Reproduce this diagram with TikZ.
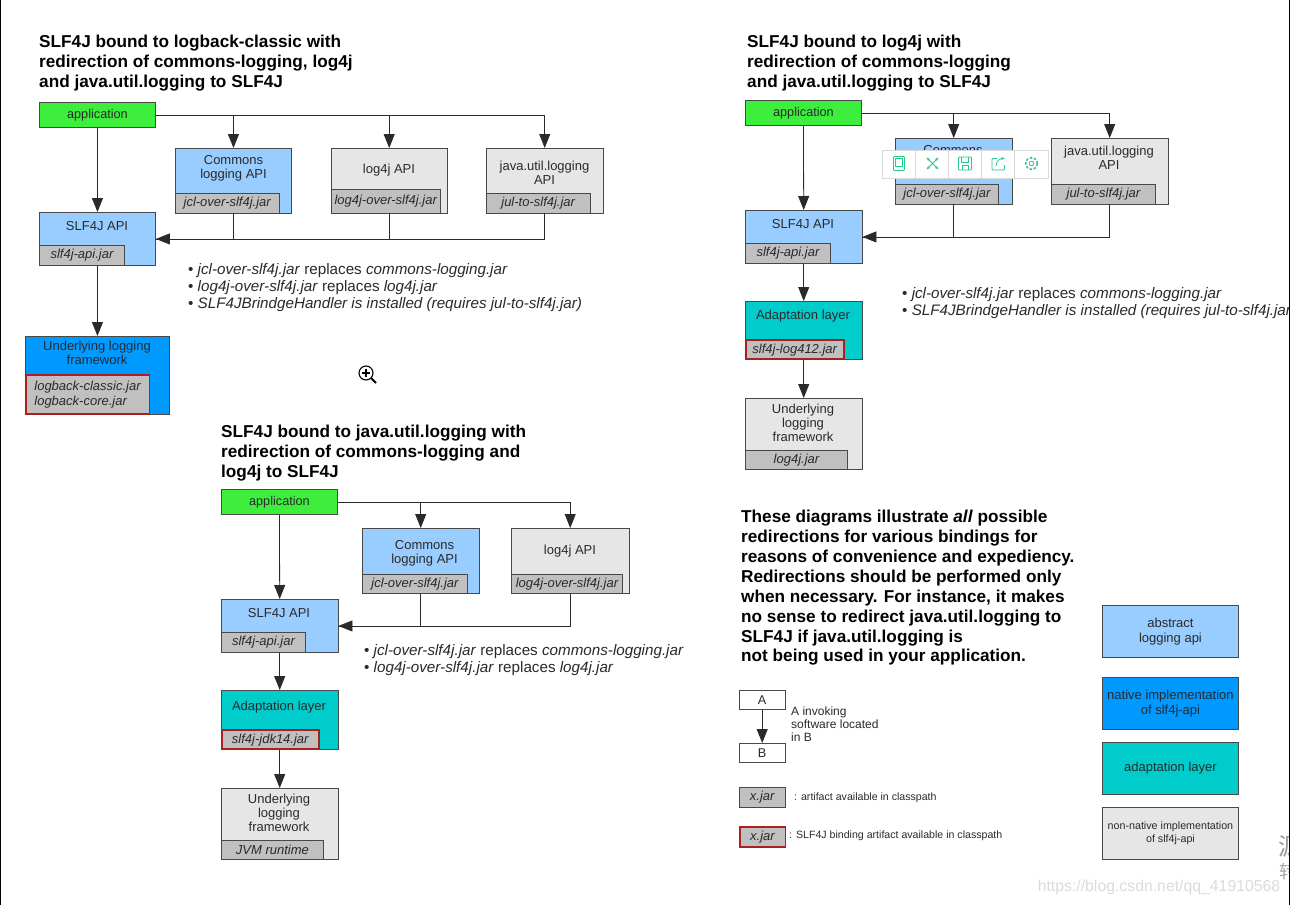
\documentclass[tikz,border=0pt]{standalone}
\usepackage{fontspec}
\setmainfont{Liberation Sans}
\newfontfamily\cjk{Noto Sans CJK SC}
\usetikzlibrary{arrows.meta, positioning, calc}
\definecolor{AppGreen}{HTML}{3DEE3D}
\definecolor{ApiBlue}{HTML}{99CCFF}
\definecolor{NativeBlue}{HTML}{0099FF}
\definecolor{AdaptTeal}{HTML}{00CCCC}
\definecolor{PlainGray}{HTML}{E6E6E6}
\definecolor{JarGray}{HTML}{C0C0C0}
\definecolor{BindRed}{HTML}{A82020}
\definecolor{EdgeGray}{HTML}{484848}
\definecolor{ToolGreen}{HTML}{22CC88}
\definecolor{InkGray}{HTML}{2A2A2A}
\tikzset{
  boxbase/.style={draw=EdgeGray, line width=0.9pt, inner sep=0pt, anchor=north west},
  appbox/.style={boxbase, fill=AppGreen, text=InkGray, minimum width=116pt, minimum height=25pt, font=\fontsize{12.7}{14.5}\selectfont},
  legendbox/.style={boxbase, minimum width=136pt, minimum height=52pt, align=center, text=InkGray, font=\fontsize{13}{15}\selectfont},
  plainbox/.style={boxbase, text=InkGray, fill=white, minimum width=45.5pt, minimum height=19pt, font=\fontsize{12.7}{14.5}\selectfont},
  boxtext/.style={inner sep=0pt, align=center, text=InkGray, font=\fontsize{13}{14.3}\selectfont},
  jarbox/.style={draw=EdgeGray, line width=0.9pt, fill=JarGray, inner sep=0pt, anchor=south west, minimum height=20pt, align=left, text=InkGray, font=\fontsize{13}{14.7}\selectfont\itshape},
  bindjar/.style={jarbox, draw=BindRed, line width=1.5pt},
  title/.style={inner sep=0pt, anchor=north west, align=left, text=black, font=\fontsize{17.2}{19.9}\selectfont\bfseries},
  note/.style={inner sep=0pt, anchor=north west, align=left, text=InkGray, font=\fontsize{15.2}{17}\selectfont},
  small/.style={inner sep=0pt, anchor=west, align=left, text=InkGray, font=\fontsize{12}{13}\selectfont},
  tiny/.style={inner sep=0pt, anchor=west, text=InkGray, font=\fontsize{10.6}{11}\selectfont},
  conn/.style={draw=InkGray, line width=0.8pt},
  call/.style={conn, -{Triangle[length=14pt,width=11pt]}},
  icon/.style={draw=ToolGreen, line width=0.8pt},
  mark text/.style={inner sep=0pt, text=black!14, font=\fontsize{15.8}{18}\selectfont},
}
\begin{document}
\begin{tikzpicture}[x=1pt,y=-1pt]
    \useasboundingbox (0,0) rectangle (1290,905);
    \fill[white] (0,0) rectangle (1290,905);

    % logback-classic
    \node[title] (titleA) at (39,35) {SLF4J bound to logback-classic with\\redirection of commons-logging, log4j\\and java.util.logging to SLF4J};
    \node[appbox] (appA) at (39,102) {application};
    \node[boxbase, fill=ApiBlue, minimum width=116pt, minimum height=64.5pt] (commonsA) at (175,148) {};
    \node[boxtext] (commonsAtext) at (233.5,168) {Commons\\logging API};
    \node[jarbox, minimum width=103.5pt] (commonsAjar) at (commonsA.south west) {jcl-over-slf4j.jar};
    \node[boxbase, fill=PlainGray, minimum width=115.5pt, minimum height=64.5pt] (logA) at (331,148) {};
    \node[boxtext] (logAtext) at (389,170) {log4j API};
    \node[jarbox, minimum width=108.5pt, minimum height=24pt] (logAjar) at (logA.south west) {log4j-over-slf4j.jar};
    \node[boxbase, fill=PlainGray, minimum width=116.5pt, minimum height=64.5pt] (julA) at (486,148) {};
    \node[boxtext] (julAtext) at (544.5,173) {java.util.logging\\API};
    \node[jarbox, minimum width=103.5pt] (julAjar) at (julA.south west) {jul-to-slf4j.jar};
    \node[boxbase, fill=ApiBlue, minimum width=116pt, minimum height=53pt] (apiA) at (39,212) {};
    \node[boxtext] (apiAtext) at (97,226) {SLF4J API};
    \node[jarbox, minimum width=85pt] (apiAjar) at (apiA.south west) {slf4j-api.jar};
    \node[note] (noteA) at (188,263.5) {• \textit{jcl-over-slf4j.jar} replaces \textit{commons-logging.jar}\\• \textit{log4j-over-slf4j.jar} replaces \textit{log4j.jar}\\• \textit{SLF4JBrindgeHandler is installed (requires jul-to-slf4j.jar)}};
    \node[boxbase, fill=NativeBlue, minimum width=143.5pt, minimum height=78pt] (fwA) at (25,336) {};
    \node[boxtext] (fwAtext) at (97,353) {Underlying logging\\framework};
    \node[bindjar, minimum width=123.5pt, minimum height=39pt] (fwAjar) at (fwA.south west) {logback-classic.jar\\logback-core.jar};
    \draw[call] (appA.east) -| (commonsA.north);
    \draw[call] (appA.east) -| (logA.north);
    \draw[call] (appA.east) -| (julA.north);
    \draw[call] (appA.south) -- (apiA.north);
    \draw[conn] (commonsA.south) |- (apiA.east);
    \draw[conn] (logA.south) |- (apiA.east);
    \draw[call] (julA.south) |- (apiA.east);
    \draw[call] (apiA.south) -- (apiA.south |- fwA.north);

    % log4j
    \node[title] (titleB) at (747,35) {SLF4J bound to log4j with\\redirection of commons-logging\\and java.util.logging to SLF4J};
    \node[appbox] (appB) at (745,100) {application};
    \node[boxbase, fill=ApiBlue, minimum width=116.5pt, minimum height=65.5pt] (commonsB) at (895,138) {};
    \node[boxtext] (commonsBtext) at (953,158) {Commons\\logging API};
    \node[jarbox, minimum width=103pt] (commonsBjar) at (commonsB.south west) {jcl-over-slf4j.jar};
    \node[boxbase, fill=PlainGray, minimum width=116.5pt, minimum height=65.5pt] (julB) at (1051,138) {};
    \node[boxtext] (julBtext) at (1109,158) {java.util.logging\\API};
    \node[jarbox, minimum width=104pt] (julBjar) at (julB.south west) {jul-to-slf4j.jar};
    \node[boxbase, fill=ApiBlue, minimum width=116.5pt, minimum height=53pt] (apiB) at (745,210) {};
    \node[boxtext] (apiBtext) at (803,224) {SLF4J API};
    \node[jarbox, minimum width=85pt] (apiBjar) at (apiB.south west) {slf4j-api.jar};
    \node[note] (noteB) at (902,287.5) {• \textit{jcl-over-slf4j.jar} replaces \textit{commons-logging.jar}\\• \textit{SLF4JBrindgeHandler is installed (requires jul-to-slf4j.jar)}};
    \node[boxbase, fill=AdaptTeal, minimum width=116.5pt, minimum height=58pt] (adaptB) at (745,301) {};
    \node[boxtext] (adaptBtext) at (803,316) {Adaptation layer};
    \node[bindjar, minimum width=98pt, minimum height=19pt] (adaptBjar) at (adaptB.south west) {slf4j-log412.jar};
    \node[boxbase, fill=PlainGray, minimum width=116.5pt, minimum height=71pt] (fwB) at (745,398) {};
    \node[boxtext] (fwBtext) at (803,423) {Underlying\\logging\\framework};
    \node[jarbox, minimum width=102pt, minimum height=19pt] (fwBjar) at (fwB.south west) {log4j.jar};
    \draw[call] (appB.east) -| (commonsB.north);
    \draw[call] (appB.east) -| (julB.north);
    \draw[call] (appB.south) -- (apiB.north);
    \draw[conn] (commonsB.south) |- (apiB.east);
    \draw[call] (julB.south) |- (apiB.east);
    \draw[call] (apiB.south) -- (adaptB.north);
    \draw[call] (adaptB.south) -- (fwB.north);

    % java.util.logging
    \node[title] (titleC) at (221,425) {SLF4J bound to java.util.logging with\\redirection of commons-logging and\\log4j to SLF4J};
    \node[appbox] (appC) at (221,489) {application};
    \node[boxbase, fill=ApiBlue, minimum width=116.5pt, minimum height=65pt] (commonsC) at (362,528) {};
    \node[boxtext] (commonsCtext) at (424.5,553) {Commons\\logging API};
    \node[jarbox, minimum width=105pt, minimum height=19pt] (commonsCjar) at (commonsC.south west) {jcl-over-slf4j.jar};
    \node[boxbase, fill=PlainGray, minimum width=117.5pt, minimum height=65pt] (logC) at (511,528) {};
    \node[boxtext] (logCtext) at (570,551) {log4j API};
    \node[jarbox, minimum width=111pt, minimum height=19pt] (logCjar) at (logC.south west) {log4j-over-slf4j.jar};
    \node[boxbase, fill=ApiBlue, minimum width=116.5pt, minimum height=53pt] (apiC) at (221,599) {};
    \node[boxtext] (apiCtext) at (279,613) {SLF4J API};
    \node[jarbox, minimum width=84pt] (apiCjar) at (apiC.south west) {slf4j-api.jar};
    \node[note] (noteC) at (364,644.5) {• \textit{jcl-over-slf4j.jar} replaces \textit{commons-logging.jar}\\• \textit{log4j-over-slf4j.jar} replaces \textit{log4j.jar}};
    \node[boxbase, fill=AdaptTeal, minimum width=116.5pt, minimum height=59pt] (adaptC) at (221,690) {};
    \node[boxtext] (adaptCtext) at (279,707) {Adaptation layer};
    \node[bindjar, minimum width=97pt, minimum height=19pt] (adaptCjar) at (adaptC.south west) {slf4j-jdk14.jar};
    \node[boxbase, fill=PlainGray, minimum width=116.5pt, minimum height=71pt] (fwC) at (221,788) {};
    \node[boxtext] (fwCtext) at (279,813) {Underlying\\logging\\framework};
    \node[jarbox, minimum width=102pt, minimum height=19pt] (fwCjar) at (fwC.south west) {JVM runtime};
    \draw[call] (appC.east) -| (commonsC.north);
    \draw[call] (appC.east) -| (logC.north);
    \draw[call] (appC.south) -- (apiC.north);
    \draw[conn] (commonsC.south) |- (apiC.east);
    \draw[call] (logC.south) |- (apiC.east);
    \draw[call] (apiC.south) -- (adaptC.north);
    \draw[call] (adaptC.south) -- (fwC.north);

    % closing remark and legend
    \node[title] (remark) at (741,510) {These diagrams illustrate \textit{all} possible\\redirections for various bindings for\\reasons of convenience and expediency.\\Redirections should be performed only\\when necessary. For instance, it makes\\no sense to redirect java.util.logging to\\SLF4J if java.util.logging is\\not being used in your application.};
    \node[legendbox, fill=ApiBlue] (lgAbstract) at (1102,605) {abstract\\logging api};
    \node[legendbox, fill=NativeBlue] (lgNative) at (1102,677) {native implementation\\of slf4j-api};
    \node[legendbox, fill=AdaptTeal] (lgAdapt) at (1102,742) {adaptation layer};
    \node[legendbox, fill=PlainGray, font=\fontsize{10.7}{13}\selectfont] (lgPlain) at (1102,807) {non-native implementation\\of slf4j-api};
    \node[plainbox] (keyA) at (739,690) {A};
    \node[plainbox] (keyB) at (739,743) {B};
    \draw[call] (keyA) -- (keyB);
    \node[small] (keyText) at (791,724.5) {A invoking\\software located\\in B};
    \node[jarbox, anchor=north west, minimum width=45.5pt, align=center] (keyJar) at (739,787) {x.jar};
    \node[tiny] (keyJarText) at (794,797.5) {: artifact available in classpath};
    \node[bindjar, anchor=north west, minimum width=45.5pt, align=center] (keyBind) at (739,826) {x.jar};
    \node[tiny] (keyBindText) at (789,835.5) {: SLF4J binding artifact available in classpath};

    % browser leftovers
    \node[mark text] (mark) at (1159,887) {https://blog.csdn.net/qq\_41910568};
    \node[mark text, anchor=west, text=black!40, font=\cjk\fontsize{24}{26}\selectfont] (markA) at (1278,846) {源};
    \node[mark text, anchor=west, text=black!35, font=\cjk\fontsize{18}{20}\selectfont] (markB) at (1279,872) {转};
    \node[draw=black!15, fill=white, line width=0.7pt, minimum width=166pt, minimum height=28pt, inner sep=0pt, anchor=north west] (toolbar) at (882,149.5) {};
    \foreach \i in {1,...,4}
        \draw[draw=black!15, line width=0.7pt] ($(toolbar.north west)+(33.2*\i,0)$) -- ($(toolbar.south west)+(33.2*\i,0)$);
    \draw[icon, rounded corners=1pt] (893.5,156.5) rectangle (904.5,170.5);
    \draw[icon] (895.5,158.5) rectangle (902.5,166.5);
    \draw[icon, <->, >={Stealth[length=4pt]}] (926.5,157.5) -- (938.5,169.5);
    \draw[icon, <->, >={Stealth[length=4pt]}] (938.5,157.5) -- (926.5,169.5);
    \draw[icon, rounded corners=1pt] (958.5,157) -- (971.5,157) -- (971.5,170) -- (958.5,170) -- cycle;
    \draw[icon] (961.5,157) -- (961.5,162) -- (968.5,162) -- (968.5,157);
    \draw[icon] (962,170) -- (962,165.5) -- (968,165.5) -- (968,170);
    \draw[icon, rounded corners=1pt] (997,158.5) -- (992,158.5) -- (992,170) -- (1004.5,170) -- (1004.5,165);
    \draw[icon, -{Stealth[length=4pt]}] (996,166) .. controls (996.5,161) and (999,158.5) .. (1005,158.5);
    \draw[icon] (1031.5,163.5) circle (2.3pt);
    \draw[icon, dash pattern=on 2.5pt off 1.7pt, line width=1.5pt] (1031.5,163.5) circle (5.8pt);
    \draw[line width=1.1pt, black] (366,373) circle (7pt);
    \draw[line width=1.6pt, black] (362,373) -- (370,373) (366,369) -- (366,377);
    \draw[line width=2pt, black] (371,378) -- (376,383);
    \draw[black, line width=1pt] (0.5,0) -- (0.5,905) (1289.5,0) -- (1289.5,905);
\end{tikzpicture}
\end{document}
